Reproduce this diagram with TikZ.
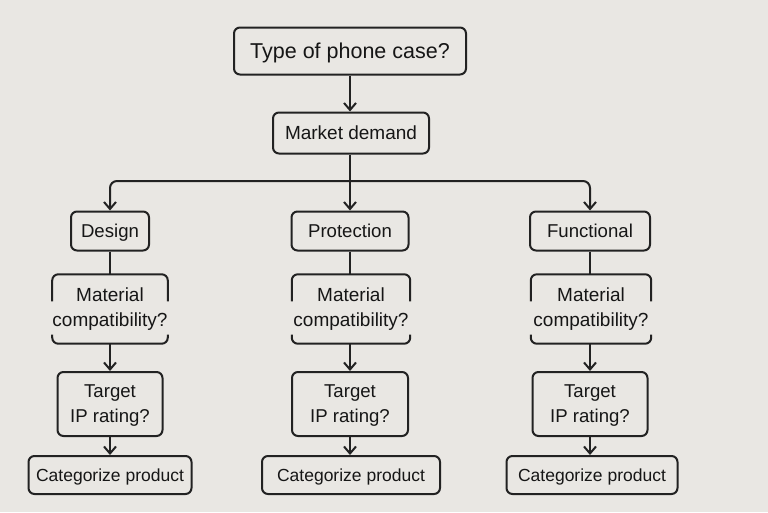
\documentclass[tikz,border=0pt]{standalone}
\usepackage{fontspec}
\setmainfont{Liberation Sans}
\usetikzlibrary{arrows.meta}
\definecolor{bg}{RGB}{233,231,227}
\definecolor{ink}{RGB}{34,34,34}
\definecolor{txt}{RGB}{22,22,22}
\begin{document}
\begin{tikzpicture}[x=1pt,y=-1pt,
  line/.style={draw=ink, line width=2pt},
  arr/.style={line, -{Straight Barb[length=7pt,width=12pt,line width=2pt]}},
  box/.style={line, rounded corners=6pt, inner sep=0pt, align=center, text=txt, text depth=0pt,
              font=\fontsize{18.6}{25}\selectfont},
  brk/.style={inner sep=0pt, align=center, text=txt, font=\fontsize{19}{25}\selectfont},
  catbox/.style={box, font=\fontsize{17.5}{21}\selectfont}]
\fill[bg] (0,0) rectangle (768,512);
\useasboundingbox (0,0) rectangle (768,512);

\node[box, minimum width=232, minimum height=47, font=\fontsize{21.5}{25}\selectfont] (type) at (350,51) {Type of phone case?};
\node[box, minimum width=156, minimum height=41, font=\fontsize{19}{25}\selectfont] (mkt) at (351,133) {Market demand};

\node[box, minimum width=78, minimum height=39] (dsn) at (110,231) {Design};
\node[box, minimum width=117, minimum height=39] (prot) at (350,231) {Protection};
\node[box, minimum width=120, minimum height=39] (func) at (590,231) {Functional};

\node[brk, minimum width=107, minimum height=69] (mat1) at (110,309) {Material\\compatibility?};
\node[brk, minimum width=118, minimum height=69] (mat2) at (351,309) {Material\\compatibility?};
\node[brk, minimum width=120, minimum height=69] (mat3) at (591,309) {Material\\compatibility?};

\node[box, minimum width=105, minimum height=64] (tgt1) at (110,404) {Target\\IP rating?};
\node[box, minimum width=116, minimum height=64] (tgt2) at (350,404) {Target\\IP rating?};
\node[box, minimum width=115, minimum height=64] (tgt3) at (590,404) {Target\\IP rating?};

\node[catbox, minimum width=163, minimum height=38] (cat1) at (110,475) {Categorize product};
\node[catbox, minimum width=178, minimum height=38] (cat2) at (351,475) {Categorize product};
\node[catbox, minimum width=171, minimum height=38] (cat3) at (592,475) {Categorize product};

% bracket borders of the material nodes
\foreach \m in {mat1,mat2,mat3}{
  \draw[line, rounded corners=6pt] ([yshift=-27pt]\m.north west) -- (\m.north west) -- (\m.north east) -- ([yshift=-27pt]\m.north east);
  \draw[line, rounded corners=6pt] ([yshift=9pt]\m.south west) -- (\m.south west) -- (\m.south east) -- ([yshift=9pt]\m.south east);
}

% connectors
\coordinate (j) at (350,181);
\draw[arr] (type.south -| j) -- (j |- mkt.north);
\draw[arr] (j |- mkt.south) -- (j |- prot.north);
\draw[arr, rounded corners=7pt] (j) -| (dsn.north);
\draw[arr, rounded corners=7pt] (j) -| (func.north);

\draw[line] (dsn.south) -- (dsn.south |- mat1.north);
\draw[line] (prot.south) -- (prot.south |- mat2.north);
\draw[line] (func.south) -- (func.south |- mat3.north);

\draw[arr] (mat1.south -| dsn) -- (dsn |- tgt1.north);
\draw[arr] (mat2.south -| prot) -- (prot |- tgt2.north);
\draw[arr] (mat3.south -| func) -- (func |- tgt3.north);

\draw[arr] (tgt1.south) -- (tgt1.south |- cat1.north);
\draw[arr] (tgt2.south) -- (tgt2.south |- cat2.north);
\draw[arr] (tgt3.south) -- (tgt3.south |- cat3.north);
\end{tikzpicture}
\end{document}
